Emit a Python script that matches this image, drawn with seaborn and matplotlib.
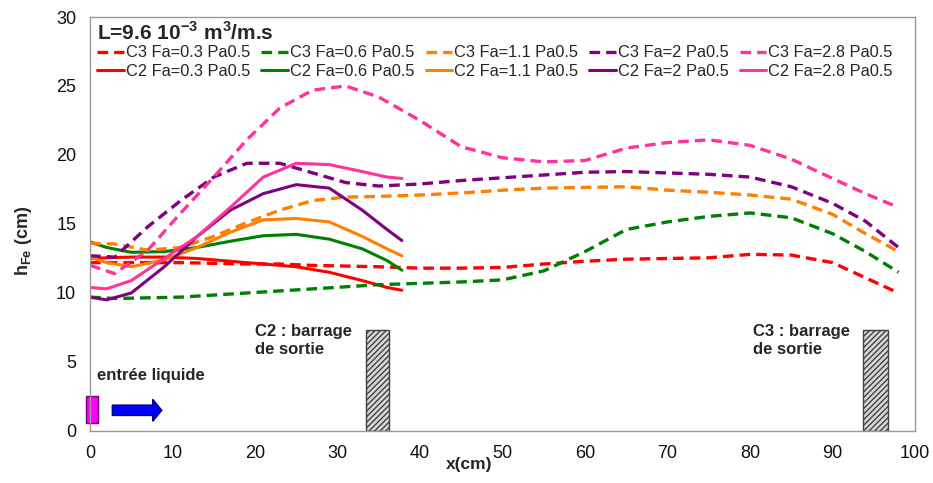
import numpy as np
import pandas as pd
import matplotlib
matplotlib.use("Agg")
import matplotlib.pyplot as plt
import seaborn as sns

# Data
x_c3 = [0, 3, 7, 11, 15, 19, 23, 27, 31, 35, 40, 45, 50, 55, 60, 65, 70, 75, 80, 85, 90, 94, 98]
c3_fa03 = [12.2, 12.2, 12.2, 12.2, 12.15, 12.1, 12.1, 12.0, 11.95, 11.9, 11.8, 11.8, 11.85, 12.1, 12.3,
           12.45, 12.5, 12.55, 12.8, 12.75, 12.2, 11.1, 10.0]
c3_fa06 = [9.7, 9.6, 9.65, 9.7, 9.85, 10.0, 10.15, 10.3, 10.45, 10.6, 10.7, 10.8, 10.95, 11.6, 13.0,
           14.6, 15.15, 15.55, 15.8, 15.45, 14.3, 13.0, 11.5]
c3_fa11 = [13.6, 13.55, 13.1, 13.3, 14.1, 15.1, 16.0, 16.7, 16.95, 17.0, 17.1, 17.25, 17.45, 17.6, 17.65,
           17.7, 17.45, 17.3, 17.1, 16.8, 15.7, 14.3, 13.0]
c3_fa2 = [12.7, 12.6, 14.8, 16.7, 18.4, 19.4, 19.4, 18.7, 18.0, 17.75, 17.9, 18.15, 18.35, 18.55, 18.75,
          18.8, 18.7, 18.6, 18.4, 17.7, 16.5, 15.2, 13.3]
c3_fa28 = [12.0, 11.4, 13.1, 15.8, 18.4, 21.1, 23.4, 24.7, 25.0, 24.2, 22.5, 20.6, 19.8, 19.5, 19.6,
           20.5, 20.9, 21.1, 20.7, 19.7, 18.3, 17.2, 16.2]

x_c2 = [0, 2, 5, 9, 13, 17, 21, 25, 29, 33, 36, 37.8]
c2_fa03 = [12.5, 12.55, 12.6, 12.6, 12.5, 12.3, 12.1, 11.9, 11.5, 10.9, 10.4, 10.2]
c2_fa06 = [13.7, 13.3, 12.95, 13.0, 13.3, 13.75, 14.15, 14.25, 13.9, 13.2, 12.35, 11.65]
c2_fa11 = [12.6, 12.2, 11.9, 12.4, 13.3, 14.4, 15.3, 15.4, 15.15, 14.1, 13.2, 12.7]
c2_fa2 = [9.7, 9.5, 10.0, 11.9, 14.1, 16.0, 17.2, 17.85, 17.6, 16.0, 14.6, 13.8]
c2_fa28 = [10.4, 10.3, 10.9, 12.5, 14.1, 16.2, 18.4, 19.4, 19.3, 18.8, 18.4, 18.3]

fa_labels = ["0.3", "0.6", "1.1", "2", "2.8"]
colors = ["#FF0000", "#008000", "#FF7F00", "#800080", "#FF3399"]

sns.set_style("white")
plt.rcParams["font.family"] = ["Liberation Sans", "DejaVu Sans"]
plt.rcParams["mathtext.fontset"] = "custom"
plt.rcParams["mathtext.rm"] = "Liberation Sans"
plt.rcParams["mathtext.bf"] = "Liberation Sans:bold"

fig = plt.figure(figsize=(9.33, 4.83), dpi=100)
ax = fig.add_axes([0.0965, 0.1077, 0.8842, 0.8571])

c3_series = [c3_fa03, c3_fa06, c3_fa11, c3_fa2, c3_fa28]
c2_series = [c2_fa03, c2_fa06, c2_fa11, c2_fa2, c2_fa28]

handles = []
labels = []
for fa, col, y3, y2 in zip(fa_labels, colors, c3_series, c2_series):
    sns.lineplot(x=x_c3, y=y3, ax=ax, color=col, linewidth=2.4, linestyle=(0, (3.2, 1.8)),
                 sort=False)
    h3 = ax.lines[-1]
    sns.lineplot(x=x_c2, y=y2, ax=ax, color=col, linewidth=2.2, sort=False)
    h2 = ax.lines[-1]
    handles += [h3, h2]
    labels += [f"C3 Fa={fa} Pa0.5", f"C2 Fa={fa} Pa0.5"]

# outlet weirs (hatched) and liquid inlet
ax.bar(34.9, 7.3, width=2.8, color="#d8d8d8", edgecolor="#404040", hatch="//////", linewidth=1)
ax.bar(95.2, 7.3, width=3.0, color="#d8d8d8", edgecolor="#404040", hatch="//////", linewidth=1)
ax.bar(0.25, 1.9, bottom=0.6, width=1.5, color="#FF00FF", edgecolor="#700070", linewidth=1,
       clip_on=False)
ax.arrow(2.7, 1.5, 6.0, 0, width=0.75, head_width=1.6, head_length=1.1,
         length_includes_head=True, fc="#0000FF", ec="#000080", lw=1)

ax.text(0.9, 3.45, "entrée liquide", fontsize=12, fontweight="bold", va="bottom")
ax.text(20.0, 7.75, "C2 : barrage\nde sortie", fontsize=12, fontweight="bold", va="top",
        linespacing=1.25)
ax.text(80.4, 7.75, "C3 : barrage\nde sortie", fontsize=12, fontweight="bold", va="top",
        linespacing=1.25)

ax.text(0.009, 0.99, r"L=9.6 10$^{\mathbf{-3}}$ m$^{\mathbf{3}}$/m.s", transform=ax.transAxes,
        fontsize=15, fontweight="bold", va="top", ha="left")

leg = ax.legend(handles, labels, ncol=5, loc="upper left", bbox_to_anchor=(-0.003, 0.955),
                frameon=False, fontsize=11.8, handlelength=1.6, handletextpad=0.12,
                columnspacing=0.7, labelspacing=0.2, borderaxespad=0.2)

ax.set_xlim(0, 100)
ax.set_ylim(0, 30)
ax.set_xticks(np.arange(0, 101, 10))
ax.set_yticks(np.arange(0, 31, 5))
ax.tick_params(axis="both", direction="out", length=5, width=1, color="#888888",
               labelsize=13, labelcolor="#111111", pad=5)
for sp in ax.spines.values():
    sp.set_color("#999999")
    sp.set_linewidth(1)
    sp.set_visible(True)

ax.set_xlabel("x(cm)", fontsize=12.5, fontweight="bold")
ax.xaxis.set_label_coords(0.46, -0.062)
ax.set_ylabel(r"h$_{\mathbf{Fe}}$ (cm)", fontsize=13, fontweight="bold")
ax.yaxis.set_label_coords(-0.068, 0.46)

fig.savefig("out.png", dpi=100)
